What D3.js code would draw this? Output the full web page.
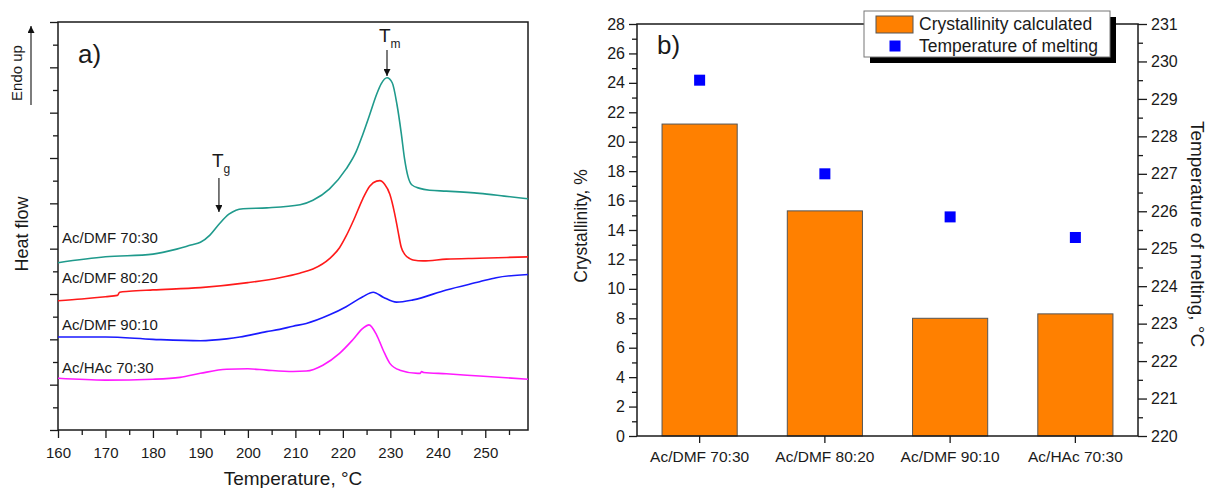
<!DOCTYPE html>
<html><head><meta charset="utf-8">
<script src="https://cdn.jsdelivr.net/npm/d3@7"></script>
<style>
body{margin:0;background:#fff}
svg{display:block}
text{font-family:"Liberation Sans",Arial,sans-serif;fill:#1a1a1a}
</style>
</head><body><svg id="c" width="1210" height="488"></svg>
<script>
// ---------- DATA: panel a (DSC curves, temperature °C vs heat flow, arb. units) ----------
const tempTicks = [160,170,180,190,200,210,220,230,240,250];
const tempMinorTicks = [165,175,185,195,205,215,225,235,245,255];
const heatFlowTicks = [0,1,2,3,4,5,6,7,8,9];
const heatFlowMinorTicks = [0.5,1.5,2.5,3.5,4.5,5.5,6.5,7.5,8.5];

const dmf70_30 = [[160,3.69],[170,3.82],[180,3.88],[185,3.99],[188,4.08],[190,4.14],[192,4.30],[194,4.55],[196,4.76],[197.5,4.85],[199,4.88],[204,4.90],[211,4.97],[213.7,5.07],[217.2,5.32],[220.7,5.76],[222.8,6.14],[224.2,6.52],[225.7,6.97],[227.1,7.40],[228.1,7.64],[229.3,7.77],[230.4,7.66],[231.4,7.18],[232.3,6.55],[233.0,5.98],[233.7,5.60],[234.5,5.41],[236.2,5.33],[238.3,5.29],[241.8,5.27],[248.8,5.22],[254,5.16],[259,5.10]];
const dmf80_20 = [[160,2.85],[165,2.89],[170,2.94],[172.5,2.97],[173,3.04],[175,3.06],[180,3.09],[190,3.14],[200,3.25],[206.7,3.36],[210.9,3.46],[213.7,3.55],[217.2,3.78],[219.3,4.02],[220.7,4.28],[222.4,4.66],[224.2,5.10],[225.7,5.38],[227.1,5.49],[227.8,5.50],[228.8,5.42],[229.9,5.20],[230.9,4.78],[231.6,4.40],[232.3,4.03],[233.0,3.88],[234.1,3.78],[234.8,3.75],[236.9,3.73],[241.8,3.77],[248.8,3.79],[259,3.82]];
const dmf90_10 = [[160,2.05],[170,2.05],[180,2.00],[190,1.97],[195.5,2.01],[198.3,2.05],[203.9,2.17],[206.7,2.22],[209.5,2.29],[212.3,2.35],[217.2,2.54],[220.7,2.72],[224.2,2.94],[226.4,3.04],[228.5,2.93],[231.3,2.82],[234.8,2.87],[241.8,3.09],[248.8,3.27],[252.3,3.36],[259,3.43]];
const hac70_30 = [[160,1.14],[170,1.10],[180,1.12],[185.7,1.16],[190,1.25],[195.5,1.34],[200,1.35],[203.9,1.32],[209.5,1.29],[212.3,1.30],[215.8,1.43],[219.3,1.69],[222.1,1.99],[224.2,2.24],[225.5,2.32],[227.1,2.10],[228.5,1.76],[229.9,1.47],[232,1.32],[235.8,1.25],[236.3,1.25],[236.6,1.29],[237,1.27],[241.8,1.24],[248.8,1.19],[259,1.12]];
const curveNames = ["Ac/DMF 70:30","Ac/DMF 80:20","Ac/DMF 90:10","Ac/HAc 70:30"];
const curveColors = ["#1f9a8c","#ff1a1a","#1a1aff","#ff1aff"];
const tgTemp = 193.9, tmTemp = 229.3;

// ---------- DATA: panel b ----------
const categories = ["Ac/DMF 70:30","Ac/DMF 80:20","Ac/DMF 90:10","Ac/HAc 70:30"];
const crystallinity = [21.2,15.3,8.0,8.3];
const meltingTemp = [229.5,227.0,225.85,225.3];
const crystTicks = [0,2,4,6,8,10,12,14,16,18,20,22,24,26,28];
const crystMinorTicks = [1,3,5,7,9,11,13,15,17,19,21,23,25,27];
const meltTicks = [220,221,222,223,224,225,226,227,228,229,230,231];
const meltMinorTicks = [220.5,221.5,222.5,223.5,224.5,225.5,226.5,227.5,228.5,229.5,230.5];

// ---------- DRAW ----------
const svg = d3.select("#c");
const AX = "#1a1a1a";
function styleAxis(g, sw){
  g.select(".domain").remove();
  g.selectAll(".tick line").attr("stroke",AX).attr("stroke-width",sw||1.3);
  g.selectAll(".tick text").attr("fill","#1a1a1a");
}

// ===== Panel a =====
const A = {l:58, r:528, t:22, b:430};
const xa = d3.scaleLinear().domain([160,259]).range([A.l,A.r]);
const ya = d3.scaleLinear().domain([0,9]).range([A.b,A.t]);

const gxa = svg.append("g").attr("transform",`translate(0,${A.b})`)
  .call(d3.axisBottom(xa).tickValues(tempTicks).tickSize(8).tickPadding(9).tickFormat(d3.format("d")));
styleAxis(gxa); gxa.selectAll("text").style("font-size","15px");
const gxam = svg.append("g").attr("transform",`translate(0,${A.b})`)
  .call(d3.axisBottom(xa).tickValues(tempMinorTicks).tickSize(5).tickFormat(""));
styleAxis(gxam);
const gya = svg.append("g").attr("transform",`translate(${A.l},0)`)
  .call(d3.axisLeft(ya).tickValues(heatFlowTicks).tickSize(8).tickFormat(""));
styleAxis(gya);
const gyam = svg.append("g").attr("transform",`translate(${A.l},0)`)
  .call(d3.axisLeft(ya).tickValues(heatFlowMinorTicks).tickSize(5).tickFormat(""));
styleAxis(gyam);
svg.append("rect").attr("x",A.l).attr("y",A.t).attr("width",A.r-A.l).attr("height",A.b-A.t)
  .attr("fill","none").attr("stroke",AX).attr("stroke-width",1.5);

const line = d3.line().x(d=>xa(d[0])).y(d=>ya(d[1])).curve(d3.curveMonotoneX);
[dmf70_30,dmf80_20,dmf90_10,hac70_30].forEach((s,i)=>{
  svg.append("path").datum(s).attr("d",line).attr("fill","none")
    .attr("stroke",curveColors[i]).attr("stroke-width",1.6).attr("stroke-linejoin","round");
});
const labelBase = [243,283,330,373];
curveNames.forEach((n,i)=>{
  svg.append("text").attr("x",62).attr("y",labelBase[i]).style("font-size","15px").text(n);
});

// arrowhead marker
const defs = svg.append("defs");
defs.append("marker").attr("id","ah").attr("viewBox","0 0 10 10").attr("refX",10).attr("refY",5)
  .attr("markerWidth",7).attr("markerHeight",7).attr("markerUnits","userSpaceOnUse").attr("orient","auto")
  .append("path").attr("d","M0,0 L10,5 L0,10 z").attr("fill","#111");

// Tg
svg.append("line").attr("x1",xa(tgTemp)).attr("x2",xa(tgTemp)).attr("y1",178).attr("y2",212)
  .attr("stroke","#111").attr("stroke-width",1.1).attr("marker-end","url(#ah)");
const tg = svg.append("text").attr("x",xa(tgTemp)-7).attr("y",167).style("font-size","19px");
tg.append("tspan").text("T");
tg.append("tspan").attr("dy",6).style("font-size","12px").text("g");
// Tm
svg.append("line").attr("x1",xa(tmTemp)).attr("x2",xa(tmTemp)).attr("y1",50).attr("y2",76)
  .attr("stroke","#111").attr("stroke-width",1.1).attr("marker-end","url(#ah)");
const tm = svg.append("text").attr("x",xa(tmTemp)-8).attr("y",42).style("font-size","19px");
tm.append("tspan").text("T");
tm.append("tspan").attr("dy",6).style("font-size","12px").text("m");

svg.append("text").attr("x",78).attr("y",63).style("font-size","26px").text("a)");
// Endo up
svg.append("line").attr("x1",31).attr("x2",31).attr("y1",105).attr("y2",26)
  .attr("stroke","#111").attr("stroke-width",1.1).attr("marker-end","url(#ah)");
svg.append("text").attr("transform","translate(22,73) rotate(-90)").attr("text-anchor","middle")
  .style("font-size","15px").text("Endo up");
svg.append("text").attr("transform","translate(28,234) rotate(-90)").attr("text-anchor","middle")
  .style("font-size","18px").text("Heat flow");
svg.append("text").attr("x",(A.l+A.r)/2).attr("y",485).attr("text-anchor","middle")
  .style("font-size","19px").text("Temperature, °C");

// ===== Panel b =====
const B = {l:637, r:1138, t:24, b:436};
const xb = d3.scaleBand().domain(categories).range([B.l,B.r]).paddingInner(0.4).paddingOuter(0.2);
const yb = d3.scaleLinear().domain([0,28]).range([B.b,B.t]);
const yb2 = d3.scaleLinear().domain([220,231]).range([B.b,B.t]);

svg.append("g").selectAll("rect").data(categories).join("rect")
  .attr("x",d=>xb(d)).attr("width",xb.bandwidth())
  .attr("y",(d,i)=>yb(crystallinity[i])).attr("height",(d,i)=>B.b-yb(crystallinity[i]))
  .attr("fill","#ff8000").attr("stroke","#555").attr("stroke-width",1);

svg.append("g").selectAll("rect").data(categories).join("rect")
  .attr("x",d=>xb(d)+xb.bandwidth()/2-5.5).attr("width",11)
  .attr("y",(d,i)=>yb2(meltingTemp[i])-5.5).attr("height",11)
  .attr("fill","#0000ff");

const gyb = svg.append("g").attr("transform",`translate(${B.l},0)`)
  .call(d3.axisLeft(yb).tickValues(crystTicks).tickSize(8).tickPadding(4));
styleAxis(gyb); gyb.selectAll("text").style("font-size","16px");
const gybm = svg.append("g").attr("transform",`translate(${B.l},0)`)
  .call(d3.axisLeft(yb).tickValues(crystMinorTicks).tickSize(5).tickFormat(""));
styleAxis(gybm);
const gyb2 = svg.append("g").attr("transform",`translate(${B.r},0)`)
  .call(d3.axisRight(yb2).tickValues(meltTicks).tickSize(9).tickPadding(4));
styleAxis(gyb2); gyb2.selectAll("text").style("font-size","16px");
const gyb2m = svg.append("g").attr("transform",`translate(${B.r},0)`)
  .call(d3.axisRight(yb2).tickValues(meltMinorTicks).tickSize(5).tickFormat(""));
styleAxis(gyb2m);
const gxb = svg.append("g").attr("transform",`translate(0,${B.b})`)
  .call(d3.axisBottom(xb).tickSize(7).tickPadding(8));
styleAxis(gxb); gxb.selectAll("text").style("font-size","15.5px");

svg.append("rect").attr("x",B.l).attr("y",B.t).attr("width",B.r-B.l).attr("height",B.b-B.t)
  .attr("fill","none").attr("stroke",AX).attr("stroke-width",1.5);

svg.append("text").attr("x",657).attr("y",54).style("font-size","26px").text("b)");
svg.append("text").attr("transform",`translate(587,${(B.t+B.b)/2-4}) rotate(-90)`).attr("text-anchor","middle")
  .style("font-size","17.5px").text("Crystallinity, %");
svg.append("text").attr("transform",`translate(1191,${(B.t+B.b)/2+4}) rotate(90)`).attr("text-anchor","middle")
  .style("font-size","19px").text("Temperature of melting, °C");

// legend
const L = {x:864, y:11, w:246, h:46};
svg.append("rect").attr("x",L.x+6).attr("y",L.y+6).attr("width",L.w).attr("height",L.h).attr("fill","#000");
svg.append("rect").attr("x",L.x).attr("y",L.y).attr("width",L.w).attr("height",L.h)
  .attr("fill","#fff").attr("stroke","#777").attr("stroke-width",1);
svg.append("rect").attr("x",876).attr("y",16).attr("width",37).attr("height",17)
  .attr("fill","#ff8000").attr("stroke","#555").attr("stroke-width",1);
svg.append("rect").attr("x",889.5).attr("y",40.5).attr("width",11).attr("height",11).attr("fill","#0000ff");
svg.append("text").attr("x",919).attr("y",30).style("font-size","17.5px").text("Crystallinity calculated");
svg.append("text").attr("x",919).attr("y",52).style("font-size","17.5px").text("Temperature of melting");
</script></body></html>
